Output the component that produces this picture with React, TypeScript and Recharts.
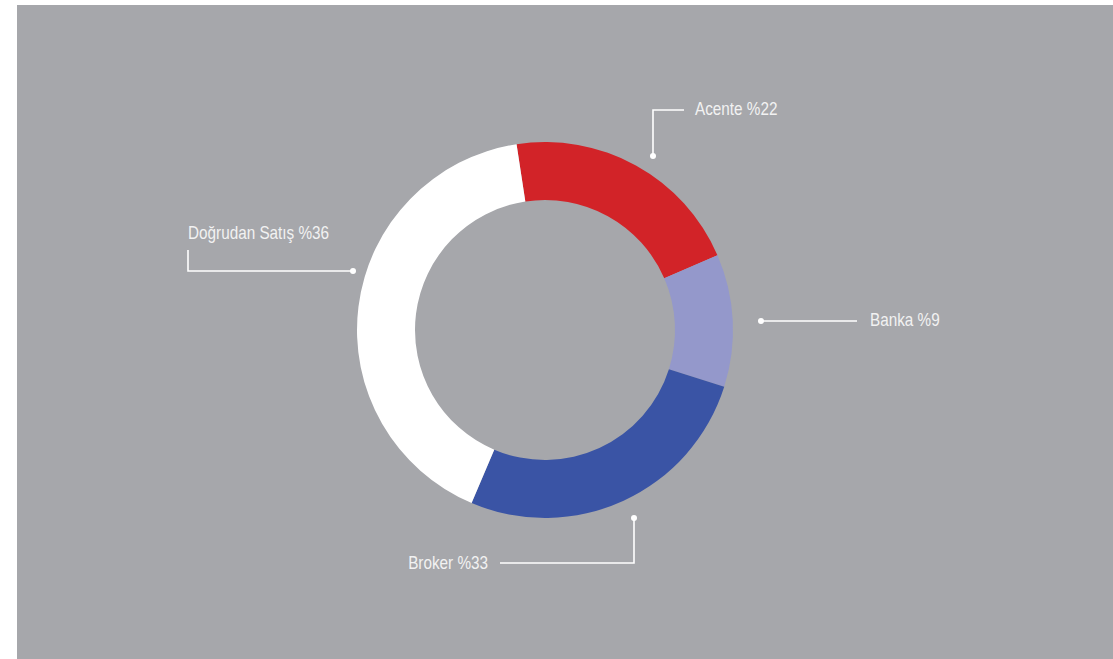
import React from "react";
import { PieChart, Pie, Cell } from "recharts";

// Dağıtım kanalları (clockwise from the top)
const channels = ["Acente", "Banka", "Broker", "Doğrudan Satış"];
// percentages printed in the labels
const labelPct = [22, 9, 33, 36];
// slice sizes as they are drawn in the ring
const arcShare = [20.9, 11.4, 26.5, 41.2];
const sliceColors = ["#d22328", "#9498cb", "#3a54a5", "#ffffff"];

const chartData = channels.map((name, i) => ({
  name,
  value: arcShare[i],
  pct: labelPct[i],
}));

const W = 1113;
const H = 659;
const CX = 545;
const CY = 330;

// leader line layout, offsets from the ring centre
const leaders = [
  { dot: [108, -174], path: [[108, -220], [139, -220]], text: [150, -215], anchor: "start" },
  { dot: [216, -9], path: [[312, -9]], text: [325, -4], anchor: "start" },
  { dot: [89, 188], path: [[89, 233], [-45, 233]], text: [-57, 239], anchor: "end" },
  { dot: [-192, -59], path: [[-357, -59], [-357, -80]], text: [-357, -91], anchor: "start" },
];

function renderLabel(props: any) {
  const { cx, cy, index, payload } = props;
  const l = leaders[index];
  if (!l) return null;
  const pts = [l.dot, ...l.path].map(([x, y]) => `${cx + x},${cy + y}`).join(" ");
  const item = payload?.payload ?? payload;
  return (
    <g key={`lbl-${index}`}>
      <polyline points={pts} fill="none" stroke="#ffffff" strokeWidth={1.6} />
      <circle cx={cx + l.dot[0]} cy={cy + l.dot[1]} r={3} fill="#ffffff" />
      {/* condensed look: the narrow face isn't available, so squeeze horizontally */}
      <text
        transform={`translate(${cx + l.text[0]},${cy + l.text[1]}) scale(0.85,1)`}
        textAnchor={l.anchor as any}
        fill="#f2f2f2"
        fontSize={18}
        fontFamily="'Liberation Sans', sans-serif"
      >
        {`${item.name} %${item.pct}`}
      </text>
    </g>
  );
}

export default function App() {
  return (
    <div style={{ position: "fixed", left: 0, top: 0, width: W, height: H, background: "#ffffff" }}>
      <div style={{ position: "absolute", left: 17, top: 5, width: W - 17, height: H - 5, background: "#a6a7ab" }} />
      <div style={{ position: "absolute", left: 0, top: 0 }}>
        <PieChart width={W} height={H} margin={{ top: 0, right: 0, bottom: 0, left: 0 }}>
          <Pie
            data={chartData}
            dataKey="value"
            nameKey="name"
            cx={CX}
            cy={CY}
            innerRadius={130}
            outerRadius={188}
            startAngle={98.7}
            endAngle={-261.3}
            stroke="none"
            labelLine={false}
            label={renderLabel}
            isAnimationActive={false}
          >
            {chartData.map((d, i) => (
              <Cell key={d.name} fill={sliceColors[i]} />
            ))}
          </Pie>
        </PieChart>
      </div>
    </div>
  );
}
